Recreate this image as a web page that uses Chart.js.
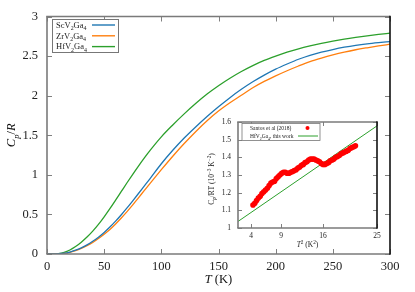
<!DOCTYPE html>
<html>
<head>
<meta charset="utf-8">
<script src="https://cdn.jsdelivr.net/npm/chart.js@4.4.1/dist/chart.umd.min.js"></script>
<style>
  html, body { margin: 0; padding: 0; background: #fff; }
  #wrap { position: relative; width: 415px; height: 292px; }
  #main { position: absolute; left: 0; top: 0; }
  #inset { position: absolute; left: 200px; top: 105px; }
</style>
</head>
<body>
<div id="wrap">
  <canvas id="main" width="415" height="292"></canvas>
  <canvas id="inset" width="190" height="150"></canvas>
</div>
<script>
// main plot: Cp/R against T
const temps = [0, 5, 10, 15, 20, 25, 30, 35, 40, 45, 50, 55, 60, 65, 70, 75, 80, 85, 90, 100,
  110, 120, 130, 140, 150, 160, 170, 180, 190, 200, 210, 220, 230, 240, 250, 260, 270, 280, 290, 300];
const scV2Ga4 = [0, 0.0004, 0.003, 0.01, 0.025, 0.048, 0.078, 0.115, 0.16, 0.212, 0.272, 0.34,
  0.415, 0.496, 0.582, 0.672, 0.764, 0.857, 0.95, 1.14, 1.31, 1.465, 1.605, 1.737, 1.86, 1.975,
  2.08, 2.175, 2.26, 2.335, 2.4, 2.46, 2.51, 2.55, 2.583, 2.612, 2.636, 2.655, 2.67, 2.683];
const zrV2Ga4 = [0, 0.0003, 0.002, 0.008, 0.022, 0.042, 0.07, 0.105, 0.145, 0.195, 0.25, 0.31,
  0.38, 0.455, 0.535, 0.62, 0.71, 0.8, 0.89, 1.065, 1.235, 1.395, 1.545, 1.683, 1.805, 1.91,
  2.005, 2.1, 2.18, 2.25, 2.315, 2.375, 2.43, 2.475, 2.515, 2.55, 2.58, 2.605, 2.628, 2.65];
const hfV2Ga4 = [0, 0.001, 0.006, 0.021, 0.051, 0.094, 0.149, 0.214, 0.289, 0.374, 0.469, 0.572,
  0.68, 0.79, 0.9, 1.007, 1.111, 1.211, 1.306, 1.48, 1.63, 1.77, 1.9, 2.02, 2.125, 2.22, 2.305,
  2.38, 2.445, 2.5, 2.55, 2.592, 2.628, 2.66, 2.688, 2.713, 2.735, 2.755, 2.773, 2.79];
const compounds = ['ScV2Ga4', 'ZrV2Ga4', 'HfV2Ga4'];
const colors = ['#1f77b4', '#ff7f0e', '#2ca02c'];

// inset: Cp/RT against T^2
const santosT2 = [4.3, 4.6, 4.9, 5.2, 5.5, 5.8, 6.1, 6.4, 6.7, 7.0, 7.3, 7.6, 7.9, 8.2, 8.5,
  8.8, 9.1, 9.4, 9.7, 10.0, 10.3, 10.6, 10.9, 11.2, 11.5, 11.8, 12.1, 12.4, 12.7, 13.0, 13.3,
  13.6, 13.9, 14.2, 14.5, 14.8, 15.1, 15.4, 15.7, 16.0, 16.3, 16.6, 16.9, 17.2, 17.5, 17.8,
  18.1, 18.4, 18.7, 19.0, 19.3, 19.6, 19.9, 20.2, 20.5, 20.8, 21.1, 21.4];
const santosCp = [1.13, 1.14, 1.155, 1.17, 1.18, 1.195, 1.205, 1.215, 1.225, 1.24, 1.255, 1.26,
  1.265, 1.28, 1.29, 1.3, 1.31, 1.315, 1.315, 1.31, 1.31, 1.315, 1.32, 1.325, 1.33, 1.34,
  1.345, 1.355, 1.36, 1.37, 1.375, 1.385, 1.39, 1.39, 1.39, 1.385, 1.38, 1.375, 1.365, 1.36,
  1.36, 1.365, 1.37, 1.38, 1.385, 1.39, 1.4, 1.405, 1.41, 1.42, 1.425, 1.43, 1.435, 1.44,
  1.45, 1.455, 1.46, 1.465];
const fitT2 = [1.8, 25];
const fitCp = [1.037, 1.578];
const insetTicksX = [4, 9, 16, 25];

const SERIF = '"Liberation Serif", "DejaVu Serif", serif';
const fmt = v => String(Number(v.toFixed(2)));

// draws text made of parts: [text, kind], kind = n | i | sub | isub | sup
function fontFor(k, size) {
  const small = k === 'sub' || k === 'sup' || k === 'isub';
  const ital = k === 'i' || k === 'isub';
  return (ital ? 'italic ' : '') + (small ? size * 0.7 : size) + 'px ' + SERIF;
}
function richWidth(ctx, parts, size) {
  let w = 0;
  parts.forEach(([t, k]) => { ctx.font = fontFor(k, size); w += ctx.measureText(t).width; });
  return w;
}
function drawRich(ctx, parts, x, y, size, align) {
  let cx = x;
  if (align === 'center') cx = x - richWidth(ctx, parts, size) / 2;
  ctx.textBaseline = 'alphabetic';
  ctx.textAlign = 'left';
  parts.forEach(([t, k]) => {
    ctx.font = fontFor(k, size);
    let dy = 0;
    if (k === 'sub' || k === 'isub') dy = size * 0.28;
    if (k === 'sup') dy = -size * 0.38;
    ctx.fillText(t, cx, y + dy);
    cx += ctx.measureText(t).width;
  });
}
function formula(name) {
  return name.split(/(\d+)/).filter(s => s).map(s => [s, /\d/.test(s) ? 'sub' : 'n']);
}

function line(ctx, x1, y1, x2, y2) {
  ctx.beginPath(); ctx.moveTo(x1, y1); ctx.lineTo(x2, y2); ctx.stroke();
}

function drawFrame(ctx, a, xs, ys, tl) {
  ctx.strokeStyle = '#808080';
  ctx.lineWidth = 1;
  xs.ticks.forEach(t => {
    const px = Math.round(xs.getPixelForValue(t.value)) + 0.5;
    line(ctx, px, a.bottom, px, a.bottom - tl);
    line(ctx, px, a.top, px, a.top + tl);
  });
  ys.ticks.forEach(t => {
    const py = Math.round(ys.getPixelForValue(t.value)) + 0.5;
    line(ctx, a.left, py, a.left + tl, py);
    line(ctx, a.right, py, a.right - tl, py);
  });
  ctx.lineWidth = 1.6;
  ctx.strokeStyle = '#7a7a7a';
  line(ctx, a.left, a.top, a.left, a.bottom);
  line(ctx, a.left - 0.8, a.bottom, a.right, a.bottom);
  line(ctx, a.left - 0.8, a.top, a.right, a.top);
  ctx.strokeStyle = '#111';
  line(ctx, a.right, a.top - 0.8, a.right, a.bottom + 0.8);
}

const mainDecor = {
  id: 'mainDecor',
  afterDraw(chart) {
    const { ctx, chartArea: a, scales: { x, y } } = chart;
    ctx.save();
    drawFrame(ctx, a, x, y, 5);
    ctx.fillStyle = '#111';
    // axis titles
    drawRich(ctx, [['T', 'i'], [' (K)', 'n']], (a.left + a.right) / 2, 283, 12.5, 'center');
    ctx.save();
    ctx.translate(15, (a.top + a.bottom) / 2);
    ctx.rotate(-Math.PI / 2);
    drawRich(ctx, [['C', 'i'], ['p', 'isub'], ['/', 'n'], ['R', 'i']], 0, 0, 12.5, 'center');
    ctx.restore();
    // legend
    ctx.strokeStyle = '#777';
    ctx.lineWidth = 1;
    ctx.fillStyle = '#fff';
    ctx.fillRect(52.5, 19.5, 66, 33);
    ctx.strokeRect(52.5, 19.5, 66, 33);
    compounds.forEach((name, i) => {
      const ry = 25 + i * 10.8;
      ctx.fillStyle = '#222';
      drawRich(ctx, formula(name), 56, ry + 2.8, 8.5);
      ctx.strokeStyle = colors[i];
      ctx.lineWidth = 1.4;
      line(ctx, 92, ry, 115, ry);
    });
    ctx.restore();
  }
};

const series = [scV2Ga4, zrV2Ga4, hfV2Ga4];
new Chart(document.getElementById('main'), {
  type: 'line',
  data: {
    datasets: series.map((vals, i) => ({
      label: compounds[i],
      data: temps.map((t, j) => ({ x: t, y: vals[j] })),
      borderColor: colors[i],
      borderWidth: 1.3,
      pointRadius: 0,
      cubicInterpolationMode: 'monotone',
      fill: false
    }))
  },
  options: {
    responsive: false,
    animation: false,
    layout: { padding: { left: 0, right: 25, top: 14, bottom: 0 } },
    plugins: { legend: { display: false }, tooltip: { enabled: false } },
    scales: {
      x: {
        type: 'linear', min: 0, max: 300,
        ticks: { stepSize: 50, padding: 5, maxRotation: 0, color: '#222', font: { family: SERIF, size: 12.5 } },
        grid: { display: false, drawTicks: false },
        border: { display: false },
        afterFit: s => { s.height = 38; }
      },
      y: {
        min: 0, max: 3,
        ticks: { stepSize: 0.5, padding: 9, color: '#222', font: { family: SERIF, size: 12.5 }, callback: fmt },
        grid: { display: false, drawTicks: false },
        border: { display: false },
        afterFit: s => { s.width = 47; }
      }
    }
  },
  plugins: [mainDecor]
});

const insetDecor = {
  id: 'insetDecor',
  afterDraw(chart) {
    const { ctx, chartArea: a, scales: { x, y } } = chart;
    ctx.save();
    drawFrame(ctx, a, x, y, 4);
    ctx.fillStyle = '#222';
    drawRich(ctx, [['T', 'i'], ['2', 'sup'], [' (K', 'n'], ['2', 'sup'], [')', 'n']],
      (a.left + a.right) / 2, 142, 7.5, 'center');
    ctx.save();
    ctx.translate(14, 74);
    ctx.rotate(-Math.PI / 2);
    drawRich(ctx, [['C', 'n'], ['p', 'isub'], ['/RT (10', 'n'], ['\u22123', 'sup'], [' K', 'n'], ['\u22122', 'sup'], [')', 'n']],
      0, 0, 7.5, 'center');
    ctx.restore();
    // legend
    ctx.strokeStyle = '#777';
    ctx.lineWidth = 0.8;
    ctx.fillStyle = '#fff';
    ctx.fillRect(42, 18.5, 78, 17);
    ctx.strokeRect(42, 18.5, 78, 17);
    ctx.fillStyle = '#222';
    drawRich(ctx, [['Santos et al (2018)', 'n']], 50, 25, 5.5);
    drawRich(ctx, [['HfV', 'n'], ['2', 'sub'], ['Ga', 'n'], ['4', 'sub'], [', this work', 'n']], 50, 33, 5.5);
    ctx.fillStyle = '#ff0000';
    ctx.beginPath(); ctx.arc(107.5, 23, 2, 0, Math.PI * 2); ctx.fill();
    ctx.strokeStyle = colors[2];
    ctx.lineWidth = 1;
    line(ctx, 98, 31, 118, 31);
    ctx.restore();
  }
};

new Chart(document.getElementById('inset'), {
  type: 'scatter',
  data: {
    datasets: [
      {
        label: 'Santos et al (2018)',
        data: santosT2.map((v, i) => ({ x: v, y: santosCp[i] })),
        backgroundColor: '#ff0000',
        borderWidth: 0,
        pointRadius: 2.8
      },
      {
        label: 'HfV₂Ga₄, this work',
        data: fitT2.map((v, i) => ({ x: v, y: fitCp[i] })),
        showLine: true,
        borderColor: colors[2],
        borderWidth: 1,
        pointRadius: 0
      }
    ]
  },
  options: {
    responsive: false,
    animation: false,
    layout: { padding: { left: 0, right: 13, top: 17, bottom: 0 } },
    plugins: { legend: { display: false }, tooltip: { enabled: false } },
    scales: {
      x: {
        type: 'linear', min: 1.8, max: 25,
        afterBuildTicks: s => { s.ticks = insetTicksX.map(v => ({ value: v })); },
        ticks: { padding: 4, maxRotation: 0, color: '#222', font: { family: SERIF, size: 7.5 } },
        grid: { display: false, drawTicks: false },
        border: { display: false },
        afterFit: s => { s.height = 27; }
      },
      y: {
        min: 1, max: 1.6,
        ticks: { stepSize: 0.1, padding: 7, color: '#222', font: { family: SERIF, size: 7.5 }, callback: fmt },
        grid: { display: false, drawTicks: false },
        border: { display: false },
        afterFit: s => { s.width = 38; }
      }
    }
  },
  plugins: [insetDecor]
});
</script>
</body>
</html>
